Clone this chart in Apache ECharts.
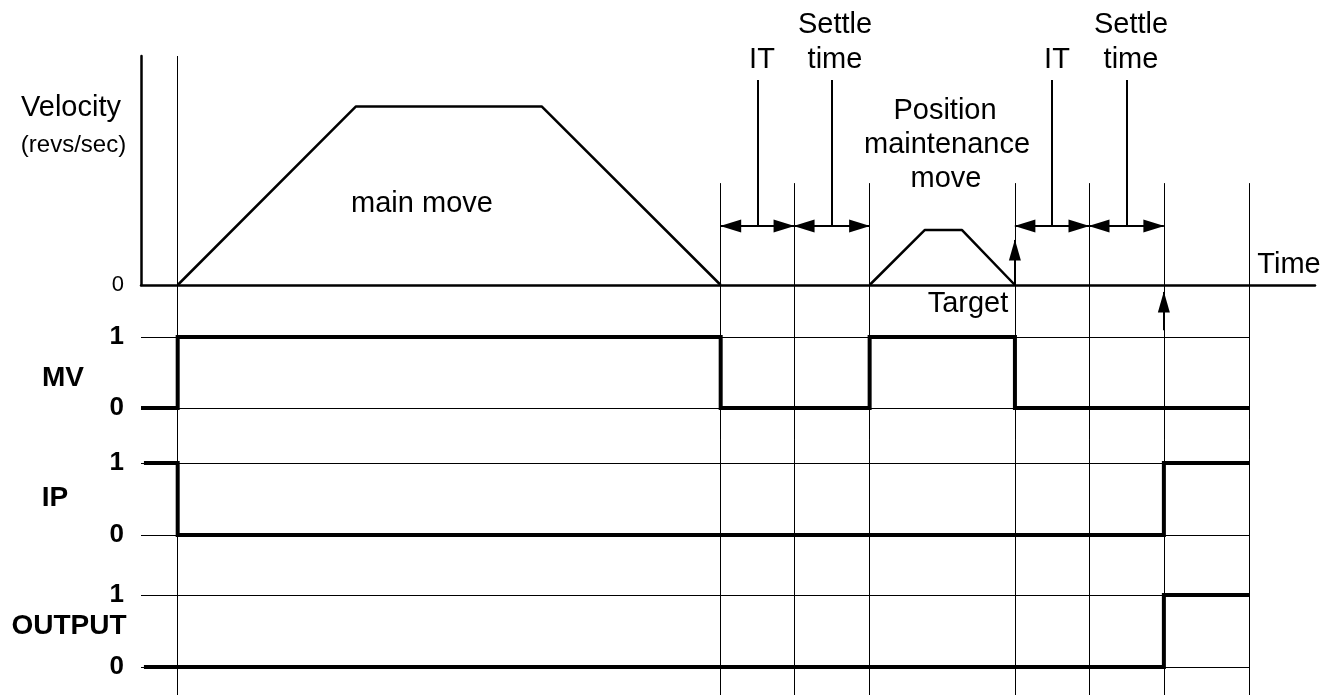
<!DOCTYPE html>
<html>
<head>
<meta charset="utf-8">
<title>Move timing</title>
<script src="https://cdn.jsdelivr.net/npm/echarts@6/dist/echarts.min.js"></script>
<style>
  html, body { margin: 0; padding: 0; background: #fff; }
  #chart { width: 1332px; height: 695px; }
</style>
</head>
<body>
<div id="chart"></div>
<script>
// event times (arbitrary time units)
const guideTimes = [0, 74, 84, 94.3, 114.1, 124.2, 134.4, 146]
// velocity profile: main move and position maintenance move
const mainMoveTimes = [0, 24.3, 49.6, 74]
const mainMoveVel = [0, 7.8, 7.8, 0]
const pmMoveTimes = [94.3, 101.8, 106.9, 114.1]
const pmMoveVel = [0, 2.4, 2.4, 0]
// digital signals, each level holds until the next time
const mvTimes = [-5, 0, 74, 94.3, 114.1, 146]
const mvLevels = [0, 1, 0, 1, 0, 0]
const ipTimes = [-4.6, 0, 134.4, 146]
const ipLevels = [1, 0, 1, 1]
const outTimes = [-4.6, 134.4, 146]
const outLevels = [0, 1, 1]
// annotated intervals [from, to]
const itSpans = [[74, 84], [114.1, 124.2]]
const settleSpans = [[84, 94.3], [124.2, 134.4]]
const targetTime = 114.1
const inPositionTime = 134.4
const signalNames = ['MV', 'IP', 'OUTPUT']

const FONT = '"Liberation Sans", Arial, sans-serif'
const X_MIN = -5
const X_MAX = 155
const SIG_X_MAX = 146
// levels in velocity units for the guide drawing
const AXIS_TOP = 10
const GUIDE_TOP = 4.45
const FLOOR = -17.9
const ARROW_Y = 2.58
const LEADER_TOP = 8.95

const zip = (xs, ys) => xs.map((x, i) => [x, ys[i]])
const mid = s => (s[0] + s[1]) / 2

const chart = echarts.init(document.getElementById('chart'))

const sigGrids = [
  { top: 337, height: 71 },
  { top: 463, height: 72 },
  { top: 595, height: 72 }
]
const sigData = [zip(mvTimes, mvLevels), zip(ipTimes, ipLevels), zip(outTimes, outLevels)]

const grids = [
  { left: 141, right: 17, top: 56, height: 229 }, // velocity
  { left: 141, right: 17, top: 56, height: 639 } // overlay for guides
].concat(sigGrids.map(g => ({ left: 141, right: 83, top: g.top, height: g.height })))

const hiddenX = (gi, max) => ({ type: 'value', gridIndex: gi, min: X_MIN, max: max, show: false })

const xAxes = [
  {
    type: 'value', gridIndex: 0, min: X_MIN, max: X_MAX,
    axisLine: { onZero: true, lineStyle: { color: '#000', width: 2.5 } },
    axisTick: { show: false }, axisLabel: { show: false }, splitLine: { show: false }
  },
  hiddenX(1, X_MAX)
].concat(sigGrids.map((g, i) => hiddenX(i + 2, SIG_X_MAX)))

const yAxes = [
  {
    type: 'value', gridIndex: 0, min: 0, max: AXIS_TOP, interval: 10,
    axisLine: { show: true, onZero: false, lineStyle: { color: '#000', width: 2.5 } },
    axisTick: { show: false }, splitLine: { show: false },
    axisLabel: {
      margin: 17, color: '#000', fontSize: 22, fontFamily: FONT,
      formatter: v => (v === 0 ? '0' : '')
    }
  },
  { type: 'value', gridIndex: 1, min: FLOOR, max: AXIS_TOP, show: false }
].concat(sigGrids.map((g, i) => ({
  type: 'value', gridIndex: i + 2, min: 0, max: 1, interval: 1,
  axisLine: { show: false }, axisTick: { show: false },
  splitLine: { show: true, lineStyle: { color: '#000', width: 1 } },
  axisLabel: { margin: 17, color: '#000', fontSize: 26, fontWeight: 'bold', fontFamily: FONT }
})))

const markSeries = (name, lines, extra) => ({
  name: name, type: 'line', xAxisIndex: 1, yAxisIndex: 1, data: [], silent: true, z: 2,
  markLine: Object.assign({
    silent: true, animation: false, symbol: 'none',
    label: { show: false },
    lineStyle: { color: '#000', width: 2, type: 'solid' },
    emphasis: { disabled: true },
    data: lines
  }, extra)
})

const guideLines = guideTimes.map((t, i) => [{ coord: [t, i === 0 ? AXIS_TOP : GUIDE_TOP] }, { coord: [t, FLOOR] }])
const spans = itSpans.concat(settleSpans)
const spanLines = spans.map(s => [{ coord: [s[0], ARROW_Y] }, { coord: [s[1], ARROW_Y] }])
const leaderLines = spans.map(s => [{ coord: [mid(s), LEADER_TOP] }, { coord: [mid(s), ARROW_Y] }])
const upArrows = [
  [{ coord: [targetTime, 0] }, { coord: [targetTime, 1.97] }],
  [{ coord: [inPositionTime, -1.97] }, { coord: [inPositionTime, -0.3] }]
]

const series = [
  markSeries('guides', guideLines, { lineStyle: { color: '#000', width: 1, type: 'solid' } }),
  markSeries('leaders', leaderLines),
  markSeries('spans', spanLines, { symbol: ['triangle', 'triangle'], symbolSize: [13, 21], symbolOffset: [[0, 10], [0, 10]] }),
  markSeries('arrows', upArrows, { symbol: ['none', 'triangle'], symbolSize: [12, 21], symbolOffset: [[0, 0], [0, 10]] }),
  {
    name: 'main move', type: 'line', xAxisIndex: 0, yAxisIndex: 0, z: 3,
    data: zip(mainMoveTimes, mainMoveVel), symbol: 'none', clip: false,
    lineStyle: { color: '#000', width: 2.5 }
  },
  {
    name: 'maintenance move', type: 'line', xAxisIndex: 0, yAxisIndex: 0, z: 3,
    data: zip(pmMoveTimes, pmMoveVel), symbol: 'none', clip: false,
    lineStyle: { color: '#000', width: 2.5 }
  }
].concat(signalNames.map((n, i) => ({
  name: n, type: 'line', step: 'end', xAxisIndex: i + 2, yAxisIndex: i + 2, z: 4,
  data: sigData[i], symbol: 'none', clip: false,
  lineStyle: { color: '#000', width: 4, join: 'miter' }
})))

// static texts: [text, x, y, size, weight]
const texts = [
  ['Velocity', 71, 107.5, 29],
  ['(revs/sec)', 73.5, 145, 24],
  ['main move', 422, 204, 29],
  ['IT', 762, 60, 29],
  ['Settle', 835, 25, 29],
  ['time', 835, 60, 29],
  ['IT', 1057, 60, 29],
  ['Settle', 1131, 25, 29],
  ['time', 1131, 60, 29],
  ['Position', 945, 111, 29],
  ['maintenance', 947, 145, 29],
  ['move', 946, 178.5, 29],
  ['Target', 968, 303.5, 29],
  ['Time', 1289, 265, 29],
  [signalNames[0], 63, 378, 28, 'bold'],
  [signalNames[1], 55, 498, 28, 'bold'],
  [signalNames[2], 69, 626, 28, 'bold']
]

chart.setOption({
  animation: false,
  backgroundColor: '#fff',
  grid: grids,
  xAxis: xAxes,
  yAxis: yAxes,
  series: series,
  graphic: texts.map(t => ({
    type: 'text', x: t[1], y: t[2], silent: true, z: 10,
    style: {
      text: t[0], fill: '#000', fontSize: t[3], fontWeight: t[4] || 'normal',
      fontFamily: FONT, align: 'center', verticalAlign: 'middle'
    }
  }))
})
</script>
</body>
</html>
